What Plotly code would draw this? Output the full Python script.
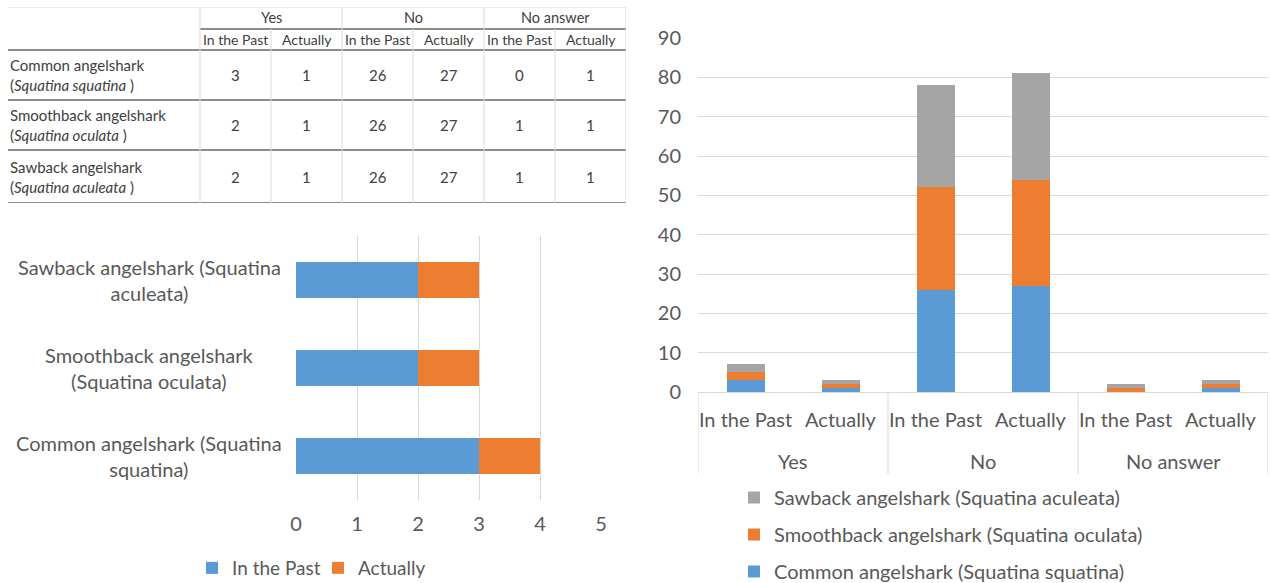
import plotly.graph_objects as go

# ---------------- data ----------------
species_short = ["Common angelshark", "Smoothback angelshark", "Sawback angelshark"]
species_latin = ["Squatina squatina", "Squatina oculata", "Squatina aculeata"]
species_full = ["Common angelshark (Squatina squatina)",
                "Smoothback angelshark (Squatina oculata)",
                "Sawback angelshark (Squatina aculeata)"]
bar_labels = ["Common angelshark (Squatina<br>squatina)",
              "Smoothback angelshark<br>(Squatina oculata)",
              "Sawback angelshark (Squatina<br>aculeata)"]
answers = ["Yes", "No", "No answer"]
periods = ["In the Past", "Actually"]

# values per species: Yes-Past, Yes-Actual, No-Past, No-Actual, NA-Past, NA-Actual
common_vals = [3, 1, 26, 27, 0, 1]
smooth_vals = [2, 1, 26, 27, 1, 1]
sawback_vals = [2, 1, 26, 27, 1, 1]
table_vals = [common_vals, smooth_vals, sawback_vals]

yes_past = [3, 2, 2]
yes_actual = [1, 1, 1]

x_ticks_left = [0, 1, 2, 3, 4, 5]
y_ticks_right = [0, 10, 20, 30, 40, 50, 60, 70, 80, 90]

BLUE = "#5B9BD5"
ORANGE = "#ED7D31"
GREY = "#A5A5A5"
TXT = "#595959"
GRID = "#D9D9D9"
FONT = "Lato"

W, H = 1270, 583
def px(x):
    return x / W
def py(y):
    return (H - y) / H

fig = go.Figure()

# ---------------- left horizontal stacked bar ----------------
fig.add_trace(go.Bar(y=species_full, x=yes_past, orientation="h", name="In the Past",
                     marker_color=BLUE, xaxis="x", yaxis="y", legend="legend"))
fig.add_trace(go.Bar(y=species_full, x=yes_actual, orientation="h", name="Actually",
                     marker_color=ORANGE, xaxis="x", yaxis="y", legend="legend"))

# ---------------- right stacked column ----------------
cats = ["%s | %s" % (a, p) for a in answers for p in periods]
cat_text = [p for a in answers for p in periods]
right_series = [(species_full[0], common_vals, BLUE, 3),
                (species_full[1], smooth_vals, ORANGE, 2),
                (species_full[2], sawback_vals, GREY, 1)]
for i, (nm, vals, col, rank) in enumerate(right_series):
    fig.add_trace(go.Bar(x=cats, y=vals, name=nm, marker_color=col,
                         xaxis="x2", yaxis="y2", legend="legend2", legendrank=rank,
                         legendgroup="g%d" % i))

annotations = []
shapes = []

# y labels for left chart (centered, two lines)
for sp, lab in zip(species_full, bar_labels):
    annotations.append(dict(x=px(149), xref="paper", y=sp, yref="y", text=lab,
                            showarrow=False, xanchor="center", yanchor="middle",
                            align="center", font=dict(family=FONT, size=20, color=TXT)))

# group labels + dividers for right chart
for g, a in enumerate(answers):
    annotations.append(dict(x=2 * g + 0.5, xref="x2", y=py(461), yref="paper", text=a,
                            showarrow=False, xanchor="center", yanchor="middle",
                            font=dict(family=FONT, size=20, color=TXT)))
for d in [-0.5, 1.5, 3.5, 5.5]:
    shapes.append(dict(type="line", xref="x2", yref="paper", x0=d, x1=d,
                       y0=py(392), y1=py(474), line=dict(color=GRID, width=1)))

# ---------------- table (drawn on hidden axes x3/y3) ----------------
LBL_W = 192 / 71.0
row_lines = [0, 0.44, 0.86, 1.86, 2.86, 3.92]
TCOL = "#404040"
DARK = "#8C8C8C"

def tline(x0, y0, x1, y1, color, width):
    shapes.append(dict(type="line", xref="x3", yref="y3", x0=x0, y0=y0, x1=x1, y1=y1,
                       line=dict(color=color, width=width), layer="above"))

tline(-LBL_W, 0, 6, 0, GRID, 1)
tline(0, 0.44, 6, 0.44, DARK, 2)
for r in row_lines[2:]:
    tline(-LBL_W, r, 6, r, DARK, 2)
for c in [0, 2, 4, 6]:
    tline(c, 0, c, row_lines[-1], GRID, 1)
for c in [1, 3, 5]:
    tline(c, 0.44, c, row_lines[-1], GRID, 1)

for g, a in enumerate(answers):
    annotations.append(dict(x=2 * g + 1, y=0.22, xref="x3", yref="y3", text=a, showarrow=False,
                            xanchor="center", yanchor="middle",
                            font=dict(family=FONT, size=14.5, color=TCOL)))
    for k, p in enumerate(periods):
        annotations.append(dict(x=2 * g + k + 0.5, y=0.65, xref="x3", yref="y3", text=p,
                                showarrow=False, xanchor="center", yanchor="middle",
                                font=dict(family=FONT, size=14, color=TCOL)))
for r in range(3):
    yc = (row_lines[2 + r] + row_lines[3 + r]) / 2
    annotations.append(dict(x=-LBL_W, y=yc, xref="x3", yref="y3",
                            text="%s<br>(<i>%s</i> )" % (species_short[r], species_latin[r]),
                            showarrow=False, xanchor="left", yanchor="middle", align="left",
                            font=dict(family=FONT, size=15, color=TCOL)))
    for c in range(6):
        annotations.append(dict(x=c + 0.5, y=yc, xref="x3", yref="y3", text=str(table_vals[r][c]),
                                showarrow=False, xanchor="center", yanchor="middle",
                                font=dict(family=FONT, size=15, color=TCOL)))

fig.update_layout(
    template="none",
    width=W, height=H, margin=dict(l=0, r=0, t=0, b=0, autoexpand=False),
    paper_bgcolor="white", plot_bgcolor="white",
    barmode="stack", bargap=0.6,
    font=dict(family=FONT, color=TXT, size=20),
    xaxis=dict(domain=[px(296), px(601)], range=[0, 5], tickvals=x_ticks_left,
               showgrid=True, gridcolor=GRID, gridwidth=1, zeroline=False, showline=False,
               ticks="", tickfont=dict(family=FONT, size=20, color=TXT), ticklabelstandoff=10,
               anchor="y", automargin=False),
    yaxis=dict(domain=[py(500), py(236)], categoryorder="array", categoryarray=species_full,
               showticklabels=False, showgrid=False, zeroline=False, showline=False, ticks="",
               anchor="x", automargin=False),
    xaxis2=dict(domain=[px(698), px(1268)], range=[-0.5, 5.5], categoryorder="array",
                categoryarray=cats, tickvals=cats, ticktext=cat_text, ticks="",
                showgrid=False, zeroline=False, showline=True, linecolor=GRID, linewidth=1,
                tickfont=dict(family=FONT, size=20, color=TXT), ticklabelstandoff=10,
                anchor="y2", automargin=False),
    yaxis2=dict(domain=[py(392), py(38)], range=[0, 90], tickvals=y_ticks_right, ticks="",
                showgrid=True, gridcolor=GRID, gridwidth=1, zeroline=False, showline=False,
                tickfont=dict(family=FONT, size=20, color=TXT), anchor="x2",
                ticklabelstandoff=16, automargin=False),
    xaxis3=dict(domain=[px(8), px(626)], range=[-LBL_W, 6], visible=False, anchor="y3",
                automargin=False),
    yaxis3=dict(domain=[py(203), py(7)], range=[row_lines[-1], 0], visible=False, anchor="x3",
                automargin=False),
    legend=dict(orientation="h", x=px(192), y=py(549), xanchor="left", yanchor="top",
                traceorder="normal", entrywidth=81,
                font=dict(family=FONT, size=19, color=TXT), itemwidth=30,
                bgcolor="rgba(0,0,0,0)", borderwidth=0),
    legend2=dict(orientation="v", x=px(734), y=py(478), xanchor="left", yanchor="top",
                 traceorder="grouped", tracegroupgap=8,
                 font=dict(family=FONT, size=20, color=TXT), itemwidth=30,
                 bgcolor="rgba(0,0,0,0)", borderwidth=0),
    annotations=annotations, shapes=shapes,
    showlegend=True,
)

fig.write_html("out.html")
